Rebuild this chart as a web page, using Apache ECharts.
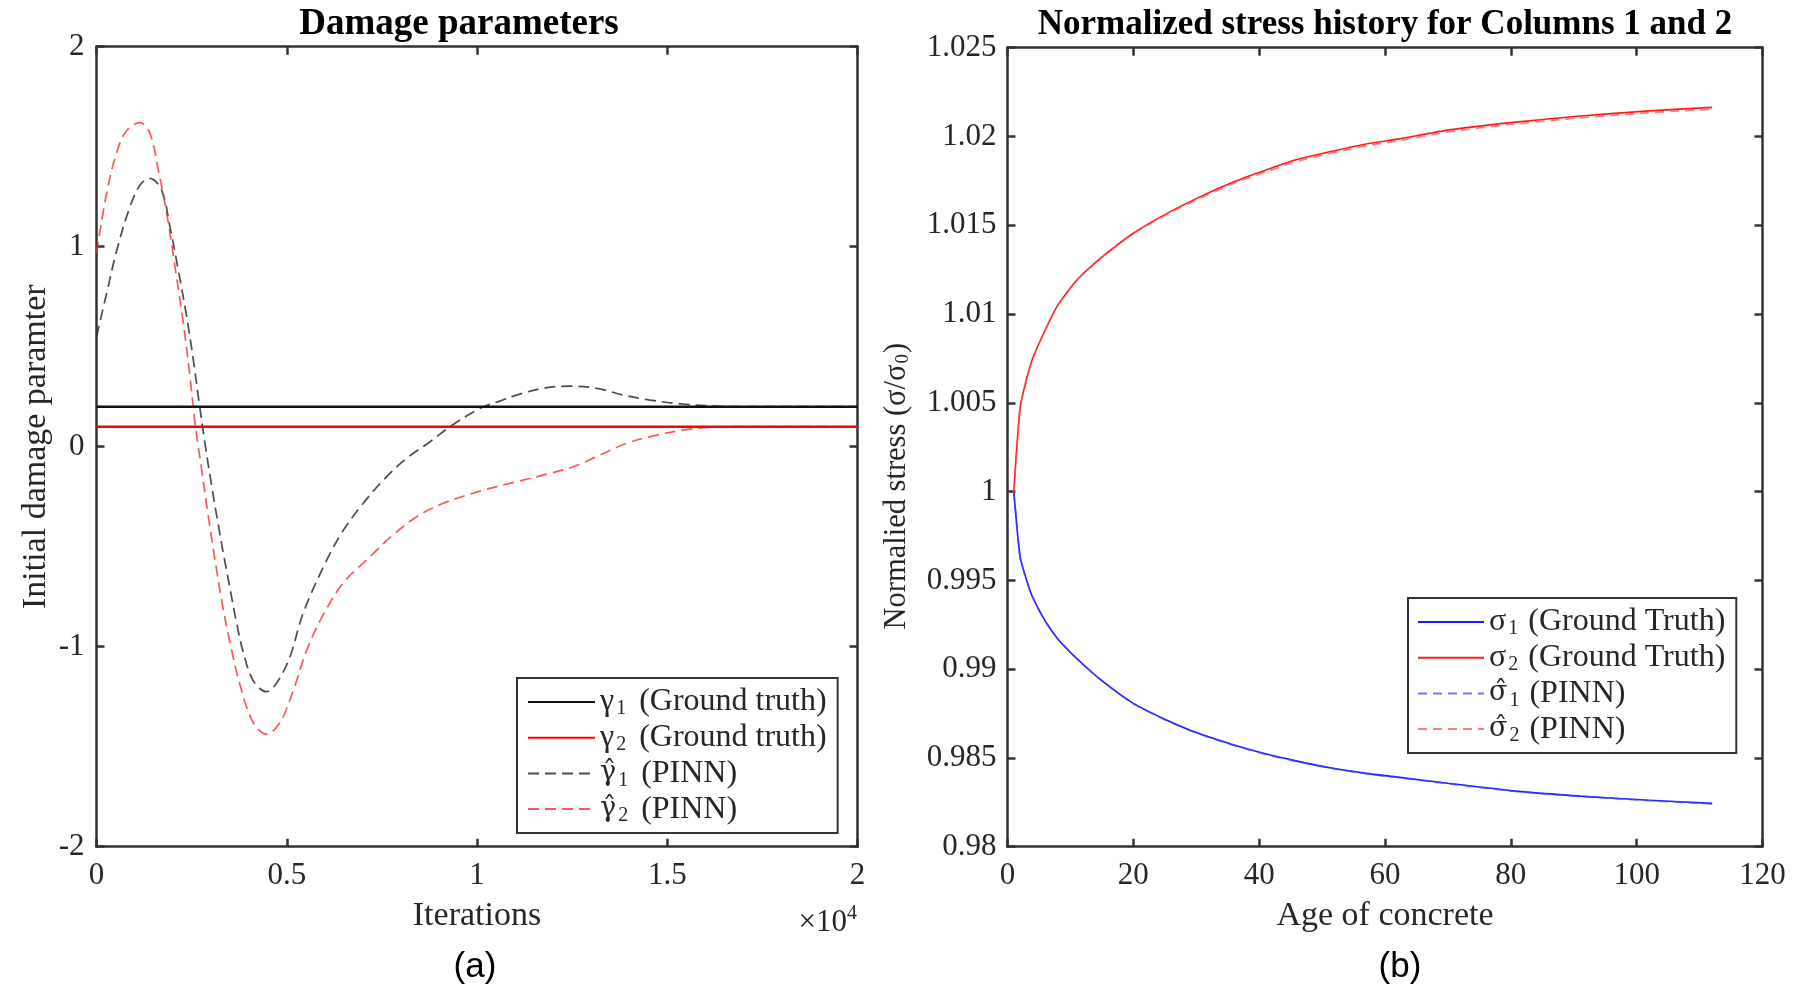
<!DOCTYPE html>
<html>
<head>
<meta charset="utf-8">
<script src="https://cdn.jsdelivr.net/npm/echarts@6/dist/echarts.min.js"></script>
<style>html,body{margin:0;padding:0;background:#fff}#c{width:1811px;height:991px}</style>
</head>
<body>
<div id="c"></div>
<script>
// ---------- Panel (a): damage parameters ----------
const iterGT = [0, 20000];
const gamma1True = [0.2, 0.2];
const gamma2True = [0.1, 0.1];
const iterHat1 = [0, 270, 530, 880, 1150, 1400, 1710, 1930, 2150, 2370, 2545, 2700, 2850, 3030, 3200, 3350, 3510, 3680, 3860, 4120, 4470, 4740, 5085, 5435, 6050, 6490, 7010, 7540, 8150, 8770, 9290, 10080, 10600, 11040, 11740, 12440, 13150, 13850, 14550, 15420, 16300, 17000, 18000, 20000];
const gamma1Hat = [0.55, 0.77, 0.98, 1.20, 1.31, 1.342, 1.283, 1.10, 0.883, 0.65, 0.433, 0.217, 0.017, -0.20, -0.39, -0.55, -0.71, -0.88, -1.03, -1.17, -1.225, -1.18, -1.05, -0.83, -0.567, -0.417, -0.283, -0.167, -0.058, 0.025, 0.10, 0.192, 0.228, 0.258, 0.292, 0.303, 0.292, 0.258, 0.233, 0.213, 0.203, 0.20, 0.20, 0.20];
const iterHat2 = [0, 270, 530, 790, 1140, 1400, 1625, 1845, 2063, 2282, 2457, 2589, 2765, 2940, 3110, 3290, 3510, 3770, 4120, 4470, 4820, 5170, 5520, 5960, 6490, 7190, 7710, 8415, 9115, 10080, 11040, 11920, 12530, 13230, 13930, 14720, 15420, 16120, 17000, 18000, 20000];
const gamma2Hat = [0.97, 1.27, 1.47, 1.58, 1.62, 1.57, 1.383, 1.167, 0.90, 0.617, 0.35, 0.117, -0.117, -0.35, -0.56, -0.77, -0.98, -1.19, -1.38, -1.437, -1.38, -1.22, -1.02, -0.84, -0.68, -0.55, -0.455, -0.35, -0.283, -0.222, -0.175, -0.133, -0.10, -0.042, 0.017, 0.058, 0.083, 0.097, 0.10, 0.10, 0.10];
const leftXTickLabels = ['0', '0.5', '1', '1.5', '2'];
const leftYTickLabels = ['-2', '-1', '0', '1', '2'];

// ---------- Panel (b): normalized stress ----------
const ageDays = [1, 2, 3, 4, 6, 8, 11, 15, 20, 25, 30, 36, 41, 46, 52, 57, 62, 70, 80, 91, 102, 112];
const sigma1True = [1.0000, 0.99633, 0.99505, 0.99405, 0.9927, 0.9917, 0.9906, 0.98935, 0.98807, 0.98718, 0.98643, 0.98573, 0.98523, 0.98482, 0.9844, 0.98413, 0.98392, 0.98357, 0.98316, 0.98285, 0.98262, 0.98244];
const sigma2True = [1.0000, 1.0047, 1.0063, 1.0075, 1.0091, 1.0105, 1.0119, 1.0132, 1.01455, 1.0156, 1.0165, 1.01745, 1.0181, 1.0187, 1.0192, 1.01958, 1.01985, 1.02036, 1.02078, 1.02115, 1.02144, 1.02164];
const sigma1Hat = [1.0000, 0.99633, 0.99505, 0.99405, 0.9927, 0.9917, 0.9906, 0.98935, 0.98805, 0.98716, 0.98641, 0.98571, 0.98521, 0.98480, 0.98438, 0.98411, 0.98390, 0.98355, 0.98314, 0.98283, 0.98260, 0.98242];
const sigma2Hat = [1.0000, 1.0047, 1.0063, 1.0075, 1.0091, 1.0105, 1.0119, 1.0132, 1.01452, 1.01555, 1.01643, 1.01737, 1.01800, 1.01860, 1.01910, 1.01948, 1.01975, 1.02026, 1.02068, 1.02105, 1.02134, 1.02154];
const rightXTickLabels = ['0', '20', '40', '60', '80', '100', '120'];
const rightYTickLabels = ['0.98', '0.985', '0.99', '0.995', '1', '1.005', '1.01', '1.015', '1.02', '1.025'];

const zip = (xs, ys) => xs.map((x, i) => [x, ys[i]]);

const FONT = "'Liberation Serif','Times New Roman',serif";
const AX = '#333333';
const TXT = '#262626';

function axisCommon(extra) {
  return Object.assign({
    type: 'value',
    splitLine: { show: false },
    axisLine: { show: true, onZero: false, lineStyle: { color: AX, width: 2.5 } },
    axisTick: { show: true, inside: true, length: 8, lineStyle: { color: AX, width: 2.5 } },
    axisLabel: { show: false }
  }, extra);
}
const labelStyle = { show: true, color: TXT, fontFamily: FONT, fontSize: 31 };

function legendRich(subPadRight) {
  return {
    b: { fontFamily: FONT, fontSize: 32, lineHeight: 34, color: TXT },
    h: { fontFamily: "'DejaVu Serif',serif", fontSize: 27, lineHeight: 34, color: TXT },
    s: { fontFamily: FONT, fontSize: 20, lineHeight: 20, padding: [14, subPadRight, 0, 2], verticalAlign: 'top', color: TXT }
  };
}

const legendMap = {
  'γ1 (Ground truth)': '{b|γ}{s|1}{b|(Ground truth)}',
  'γ2 (Ground truth)': '{b|γ}{s|2}{b|(Ground truth)}',
  'γ̂1 (PINN)': '{h|γ\u0302}{s|1}{b|(PINN)}',
  'γ̂2 (PINN)': '{h|γ\u0302}{s|2}{b|(PINN)}',
  'σ1 (Ground Truth)': '{b|σ}{s|1}{b|(Ground Truth)}',
  'σ2 (Ground Truth)': '{b|σ}{s|2}{b|(Ground Truth)}',
  'σ̂1 (PINN)': '{h|σ\u0302}{s|1}{b|(PINN)}',
  'σ̂2 (PINN)': '{h|σ\u0302}{s|2}{b|(PINN)}'
};

const chart = echarts.init(document.getElementById('c'), null, { renderer: 'canvas' });

const option = {
  backgroundColor: '#ffffff',
  animation: false,
  title: [
    { text: 'Damage parameters', left: 459, top: 6, textAlign: 'center', padding: 0,
      textStyle: { fontFamily: FONT, fontWeight: 'bold', fontSize: 37, color: '#000' } },
    { text: 'Normalized stress history for Columns 1 and 2', left: 1385, top: 7, textAlign: 'center', padding: 0,
      textStyle: { fontFamily: FONT, fontWeight: 'bold', fontSize: 35, color: '#000' } },
    { text: '{b|×10}{p|4}', left: 857, top: 904, textAlign: 'right', padding: 0,
      textStyle: { fontWeight: 'normal', rich: {
        b: { fontFamily: FONT, fontWeight: 'normal', fontSize: 31, lineHeight: 34, verticalAlign: 'bottom', color: TXT },
        p: { fontFamily: FONT, fontWeight: 'normal', fontSize: 20, lineHeight: 20, padding: [0, 0, 14, 0], verticalAlign: 'top', color: TXT }
      } } },
    { text: '(a)', left: 475, top: 950, textAlign: 'center', padding: 0,
      textStyle: { fontFamily: "'Liberation Sans',Arial,sans-serif", fontWeight: 'normal', fontSize: 35, color: '#000' } },
    { text: '(b)', left: 1400, top: 950, textAlign: 'center', padding: 0,
      textStyle: { fontFamily: "'Liberation Sans',Arial,sans-serif", fontWeight: 'normal', fontSize: 35, color: '#000' } }
  ],
  grid: [
    { left: 96.5, top: 46.7, width: 761, height: 800 },
    { left: 1007.5, top: 47.7, width: 755, height: 799 }
  ],
  xAxis: [
    axisCommon({ gridIndex: 0, position: 'bottom', min: 0, max: 20000, interval: 5000,
      axisLabel: Object.assign({}, labelStyle, { margin: 14, formatter: v => leftXTickLabels[Math.round(v / 5000)] }),
      name: 'Iterations', nameLocation: 'middle', nameGap: 52,
      nameTextStyle: { fontFamily: FONT, fontSize: 34, color: TXT } }),
    axisCommon({ gridIndex: 0, position: 'top', min: 0, max: 20000, interval: 5000 }),
    axisCommon({ gridIndex: 1, position: 'bottom', min: 0, max: 120, interval: 20,
      axisLabel: Object.assign({}, labelStyle, { margin: 14, formatter: v => rightXTickLabels[Math.round(v / 20)] }),
      name: 'Age of concrete', nameLocation: 'middle', nameGap: 52,
      nameTextStyle: { fontFamily: FONT, fontSize: 34, color: TXT } }),
    axisCommon({ gridIndex: 1, position: 'top', min: 0, max: 120, interval: 20 })
  ],
  yAxis: [
    axisCommon({ gridIndex: 0, position: 'left', min: -2, max: 2, interval: 1,
      axisLabel: Object.assign({}, labelStyle, { margin: 12, formatter: v => leftYTickLabels[Math.round(v + 2)] }),
      name: 'Initial damage paramter', nameLocation: 'middle', nameGap: 43,
      nameTextStyle: { fontFamily: FONT, fontSize: 34, color: TXT } }),
    axisCommon({ gridIndex: 0, position: 'right', min: -2, max: 2, interval: 1 }),
    axisCommon({ gridIndex: 1, position: 'left', min: 0.98, max: 1.025, interval: 0.005,
      axisLabel: Object.assign({}, labelStyle, { margin: 11, formatter: v => rightYTickLabels[Math.round((v - 0.98) / 0.005)] }),
      name: '{b|Normalied stress (σ/σ}{s|0}{e|)}', nameLocation: 'middle', nameGap: 95,
      nameTextStyle: { rich: {
        b: { fontFamily: FONT, fontSize: 30.5, lineHeight: 32, color: TXT },
        e: { fontFamily: FONT, fontSize: 30.5, lineHeight: 32, padding: [0, 78, 0, 0], color: TXT },
        s: { fontFamily: FONT, fontSize: 19, lineHeight: 19, padding: [13, 1, 0, 1], verticalAlign: 'top', color: TXT }
      } } }),
    axisCommon({ gridIndex: 1, position: 'right', min: 0.98, max: 1.025, interval: 0.005 })
  ],
  legend: [
    { orient: 'vertical', left: 517, top: 678, padding: [7, 11, 7, 10], itemGap: 1.7,
      itemWidth: 67, itemHeight: 14, borderColor: AX, borderWidth: 2, backgroundColor: '#fff',
      selectedMode: false, itemStyle: { opacity: 0 },
      data: ['γ1 (Ground truth)', 'γ2 (Ground truth)', 'γ̂1 (PINN)', 'γ̂2 (PINN)'],
      formatter: n => legendMap[n],
      textStyle: { fontFamily: FONT, fontSize: 32, lineHeight: 34, color: TXT, rich: legendRich(13) } },
    { orient: 'vertical', left: 1408, top: 598, padding: [7, 11, 7, 9], itemGap: 1.7,
      itemWidth: 66, itemHeight: 14, borderColor: AX, borderWidth: 2, backgroundColor: '#fff',
      selectedMode: false, itemStyle: { opacity: 0 },
      data: ['σ1 (Ground Truth)', 'σ2 (Ground Truth)', 'σ̂1 (PINN)', 'σ̂2 (PINN)'],
      formatter: n => legendMap[n],
      textStyle: { fontFamily: FONT, fontSize: 32, lineHeight: 34, color: TXT, rich: legendRich(10) } }
  ],
  series: [
    { name: 'γ̂1 (PINN)', type: 'line', xAxisIndex: 0, yAxisIndex: 0, symbol: 'none', smooth: 0.35,
      data: zip(iterHat1, gamma1Hat), z: 2,
      lineStyle: { color: 'rgba(45,45,45,0.85)', width: 1.7, type: [11, 6] } },
    { name: 'γ̂2 (PINN)', type: 'line', xAxisIndex: 0, yAxisIndex: 0, symbol: 'none', smooth: 0.35,
      data: zip(iterHat2, gamma2Hat), z: 2,
      lineStyle: { color: 'rgba(255,45,45,0.8)', width: 1.7, type: [11, 6] } },
    { name: 'γ1 (Ground truth)', type: 'line', xAxisIndex: 0, yAxisIndex: 0, symbol: 'none',
      data: zip(iterGT, gamma1True), z: 3,
      lineStyle: { color: '#111111', width: 2.4 } },
    { name: 'γ2 (Ground truth)', type: 'line', xAxisIndex: 0, yAxisIndex: 0, symbol: 'none',
      data: zip(iterGT, gamma2True), z: 3,
      lineStyle: { color: '#ff0000', width: 2.4 } },

    { name: 'σ1 (Ground Truth)', type: 'line', xAxisIndex: 2, yAxisIndex: 2, symbol: 'none', smooth: 0.2,
      data: zip(ageDays, sigma1True), z: 2,
      lineStyle: { color: '#1a1aff', width: 1.6 } },
    { name: 'σ2 (Ground Truth)', type: 'line', xAxisIndex: 2, yAxisIndex: 2, symbol: 'none', smooth: 0.2,
      data: zip(ageDays, sigma2True), z: 2,
      lineStyle: { color: '#ff1a1a', width: 1.6 } },
    { name: 'σ̂1 (PINN)', type: 'line', xAxisIndex: 2, yAxisIndex: 2, symbol: 'none', smooth: 0.2,
      data: zip(ageDays, sigma1Hat), z: 3,
      lineStyle: { color: 'rgba(70,70,255,0.75)', width: 1.8, type: [9, 6] } },
    { name: 'σ̂2 (PINN)', type: 'line', xAxisIndex: 2, yAxisIndex: 2, symbol: 'none', smooth: 0.2,
      data: zip(ageDays, sigma2Hat), z: 3,
      lineStyle: { color: 'rgba(255,80,80,0.75)', width: 1.8, type: [9, 6] } }
  ]
};
chart.setOption(option);
</script>
</body>
</html>
